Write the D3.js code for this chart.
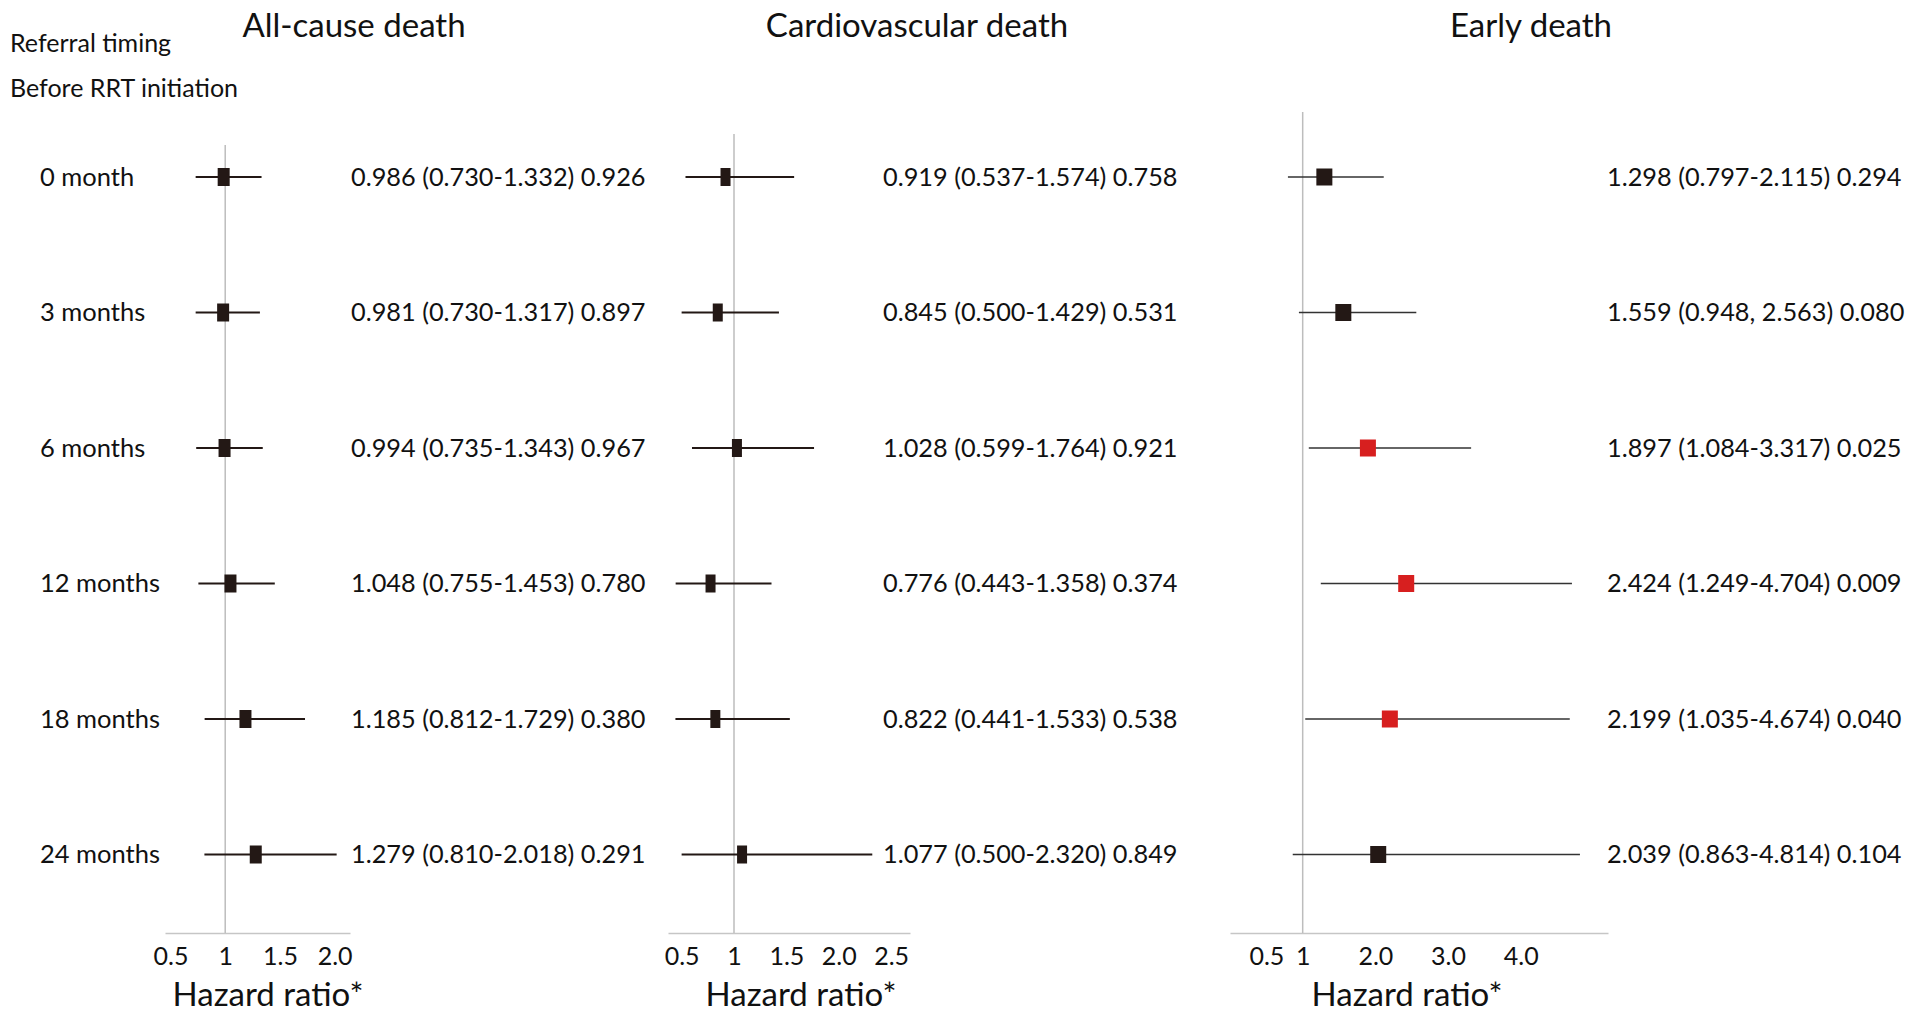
<!DOCTYPE html>
<html>
<head>
<meta charset="utf-8">
<script src="https://cdn.jsdelivr.net/npm/d3@7"></script>
<style>
  body { margin: 0; background: #fff; }
  text { font-family: Lato, "Open Sans", sans-serif; fill: #111; }
</style>
</head>
<body>
<svg id="chart" width="1915" height="1021"></svg>
<script>
// referral timing rows
const rows = ["0 month", "3 months", "6 months", "12 months", "18 months", "24 months"];

// all-cause death
const allCauseHR = [0.986, 0.981, 0.994, 1.048, 1.185, 1.279];
const allCauseLo = [0.730, 0.730, 0.735, 0.755, 0.812, 0.810];
const allCauseHi = [1.332, 1.317, 1.343, 1.453, 1.729, 2.018];
const allCauseP = ["0.926", "0.897", "0.967", "0.780", "0.380", "0.291"];

// cardiovascular death
const cvHR = [0.919, 0.845, 1.028, 0.776, 0.822, 1.077];
const cvLo = [0.537, 0.500, 0.599, 0.443, 0.441, 0.500];
const cvHi = [1.574, 1.429, 1.764, 1.358, 1.533, 2.320];
const cvP = ["0.758", "0.531", "0.921", "0.374", "0.538", "0.849"];

// early death
const earlyHR = [1.298, 1.559, 1.897, 2.424, 2.199, 2.039];
const earlyLo = [0.797, 0.948, 1.084, 1.249, 1.035, 0.863];
const earlyHi = [2.115, 2.563, 3.317, 4.704, 4.674, 4.814];
const earlyP = ["0.294", "0.080", "0.025", "0.009", "0.040", "0.104"];
const earlySep = ["-", ", ", "-", "-", "-", "-"];

// tick labels
const ticks1 = [0.5, 1, 1.5, 2.0];
const ticks2 = [0.5, 1, 1.5, 2.0, 2.5];
const ticks3 = [0.5, 1, 2.0, 3.0, 4.0];

const svg = d3.select('#chart');
const width = +svg.attr("width");
const height = +svg.attr("height");

svg.append('rect').attr('width', width).attr('height', height).attr('fill', '#fff');

const axisY = 933;
const yScale = d3.scalePoint()
    .domain(rows)
    .range([177, 854.5]);

const f3 = d3.format(".3f");
const tickFmt = v => v === 1 ? "1" : d3.format(".1f")(v);

const makeRows = (hr, lo, hi, p, sep) => rows.map((r, i) => ({
    row: r, hr: hr[i], lo: lo[i], hi: hi[i], p: p[i],
    sep: sep ? sep[i] : "-"
}));

const panels = [
    {title: "All-cause death", titleX: 354, data: makeRows(allCauseHR, allCauseLo, allCauseHi, allCauseP),
     domain: [0.45, 2.14], range: [165, 350], ticks: ticks1, textX: 351, refTop: 145,
     boxW: 12, boxH: 18, lineW: 2.2, lineColor: "#231815", axisTitleX: 268},
    {title: "Cardiovascular death", titleX: 917, data: makeRows(cvHR, cvLo, cvHi, cvP),
     domain: [0.37, 2.68], range: [668, 910], ticks: ticks2, textX: 883, refTop: 134,
     boxW: 10, boxH: 18, lineW: 1.9, lineColor: "#231815", axisTitleX: 801},
    {title: "Early death", titleX: 1531, data: makeRows(earlyHR, earlyLo, earlyHi, earlyP, earlySep),
     domain: [0, 5.2], range: [1230, 1608], ticks: ticks3, textX: 1607, refTop: 112,
     boxW: 16, boxH: 17, lineW: 1.6, lineColor: "#333", axisTitleX: 1407}
];

// header labels
svg.append('text').attr('x', 10).attr('y', 52).attr('font-size', 25).text("Referral timing");
svg.append('text').attr('x', 10).attr('y', 97).attr('font-size', 25).text("Before RRT initiation");

svg.selectAll('.rowLabel')
    .data(rows)
    .enter()
    .append('text')
    .attr('class', 'rowLabel')
    .attr('x', 40)
    .attr('y', d => yScale(d))
    .attr('dy', '0.34em')
    .attr('font-size', 25.5)
    .text(d => d);

panels.forEach(pn => {
    const xScale = d3.scaleLinear().domain(pn.domain).range(pn.range);
    const g = svg.append('g');

    g.append('text')
        .attr('x', pn.titleX).attr('y', 37)
        .attr('text-anchor', 'middle')
        .attr('font-size', 33)
        .text(pn.title);

    // axis
    const xAxis = d3.axisBottom(xScale)
        .tickValues(pn.ticks)
        .tickFormat(tickFmt)
        .tickSize(0)
        .tickSizeOuter(0)
        .tickPadding(14);

    const ax = g.append('g')
        .attr('transform', 'translate(0,' + axisY + ')')
        .call(xAxis);
    ax.select('.domain').attr('stroke', '#c6c6c6').attr('stroke-width', 1.5);
    ax.selectAll('.tick text')
        .attr('font-size', 25)
        .attr('fill', '#111')
        .style('font-family', 'Lato, sans-serif');

    g.append('text')
        .attr('x', pn.axisTitleX).attr('y', 1006)
        .attr('text-anchor', 'middle')
        .attr('font-size', 33)
        .text("Hazard ratio*");

    // reference line at HR = 1
    g.append('line')
        .attr('x1', xScale(1)).attr('x2', xScale(1))
        .attr('y1', pn.refTop).attr('y2', axisY)
        .attr('stroke', '#bdbdbd').attr('stroke-width', 1.5);

    // confidence intervals
    g.selectAll('.ci')
        .data(pn.data)
        .enter()
        .append('line')
        .attr('class', 'ci')
        .attr('x1', d => xScale(d.lo))
        .attr('x2', d => xScale(d.hi))
        .attr('y1', d => yScale(d.row))
        .attr('y2', d => yScale(d.row))
        .attr('stroke', pn.lineColor)
        .attr('stroke-width', pn.lineW);

    // point estimates
    g.selectAll('.box')
        .data(pn.data)
        .enter()
        .append('rect')
        .attr('class', 'box')
        .attr('x', d => xScale(d.hr) - pn.boxW / 2)
        .attr('y', d => yScale(d.row) - pn.boxH / 2)
        .attr('width', pn.boxW)
        .attr('height', pn.boxH)
        .attr('fill', d => +d.p < 0.05 ? '#d71f1f' : '#231815');

    // estimate text
    g.selectAll('.est')
        .data(pn.data)
        .enter()
        .append('text')
        .attr('class', 'est')
        .attr('x', pn.textX)
        .attr('y', d => yScale(d.row))
        .attr('dy', '0.34em')
        .attr('font-size', 25.3)
        .text(d => f3(d.hr) + " (" + f3(d.lo) + d.sep + f3(d.hi) + ") " + d.p);
});
</script>
</body>
</html>
